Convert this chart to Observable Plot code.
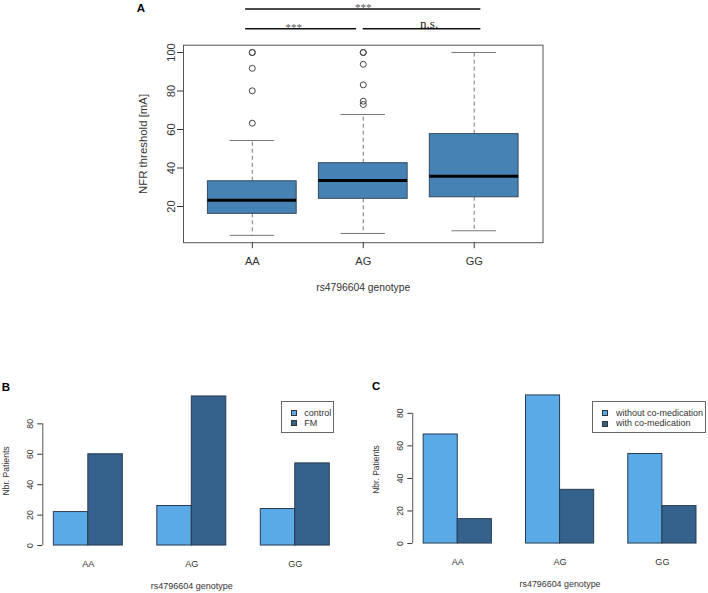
<!DOCTYPE html>
<html>
<head>
<meta charset="utf-8">
<script src="https://cdn.jsdelivr.net/npm/d3@7"></script>
<script src="https://cdn.jsdelivr.net/npm/@observablehq/plot@0.6"></script>
<style>
  html, body { margin: 0; padding: 0; background: #fff; overflow: hidden; }
  #wrap { position: relative; width: 708px; height: 593px; overflow: hidden; background: #fff;
          font-family: "Liberation Sans", Arial, Helvetica, sans-serif; color: #333; }
  .panel { position: absolute; }
  .legend { position: absolute; box-sizing: border-box; border: 1px solid #666; background: #fff; }
  .legend .sw { position: absolute; width: 6px; height: 6px; border: 1px solid #333; box-sizing: border-box; }
  .legend .lb { position: absolute; font-size: 9px; line-height: 10px; white-space: nowrap; color: #333; }
</style>
</head>
<body>
<div id="wrap">
  <div class="panel" id="pA" style="left:0;top:0"></div>
  <div class="panel" id="pB" style="left:0;top:370px"></div>
  <div class="panel" id="pC" style="left:354px;top:370px"></div>
</div>
<script>
// ---------------- data ----------------
const genotypes = ["AA", "AG", "GG"];

// Panel A: NFR threshold [mA] box-plot summaries per genotype
const whiskerLow  = [5, 6, 7.4];
const quartile1   = [16.2, 24.0, 24.8];
const medians     = [23.3, 33.5, 35.7];
const quartile3   = [33.1, 42.5, 57.6];
const whiskerHigh = [54.3, 67.8, 100];
const outliersAA  = [63.3, 80.1, 91.8, 100, 100];
const outliersAG  = [73, 74.7, 83.2, 93.9, 100, 100];
const outliersGG  = [];
const yTicksA = [20, 40, 60, 80, 100];
const comparisons = [
  {from: "AA", to: "AG", label: "***", tier: 0},
  {from: "AG", to: "GG", label: "n.s.", tier: 0},
  {from: "AA", to: "GG", label: "***", tier: 1}
];

// Panel B: number of patients, control vs FM
const seriesB = ["control", "FM"];
const controlCounts = [22, 26, 24];
const fmCounts = [60, 98, 54];

// Panel C: number of patients, with / without co-medication
const seriesC = ["without co-medication", "with co-medication"];
const withoutCoMed = [67, 91, 55];
const withCoMed = [15, 33, 23];

const yTicksBars = [0, 20, 40, 60, 80];
const seriesColors = ["#5aaae8", "#34628c"];
const xTitle = "rs4796604 genotype";

// ---------------- helpers ----------------
const FONT = '"Liberation Sans", Arial, Helvetica, sans-serif';
const SERIF = '"Liberation Serif", "Times New Roman", serif';
const rExtend = ([a, b]) => { const d = (b - a) * 0.04; return [a - d, b + d]; };
const baseStyle = {background: "transparent", fontFamily: FONT, color: "#333", overflow: "visible"};

// ---------------- Panel A ----------------
const idx = genotypes.map((g, i) => i);
const outlierRows = [
  ...outliersAA.map(v => ({g: 0, v})),
  ...outliersAG.map(v => ({g: 1, v})),
  ...outliersGG.map(v => ({g: 2, v}))
];
const xA = rExtend([0.5, genotypes.length + 0.5]);
const allA = [...whiskerLow, ...whiskerHigh, ...outlierRows.map(d => d.v)];
const yA = rExtend([d3.min(allA), d3.max(allA)]);

const sigRows = comparisons.map(c => {
  const a = genotypes.indexOf(c.from) + 1, b = genotypes.indexOf(c.to) + 1;
  const x1 = a - (a === 2 ? 0 : 0.06);
  const x2 = b + (b === 2 ? -0.06 : 0.06);
  const mid = (x1 + x2) / 2;
  return {x1, x2, y: 112.3 + c.tier * 10.3, tx: mid + (mid - 2) * 0.12, label: c.label};
});

const plotA = Plot.plot({
  width: 708, height: 300,
  marginLeft: 183, marginRight: 165.5, marginTop: 44.7, marginBottom: 57.8,
  x: {type: "linear", domain: xA},
  y: {domain: yA},
  style: baseStyle,
  marks: [
    Plot.ruleX(idx, {x: i => i + 1, y1: i => quartile3[i], y2: i => whiskerHigh[i], stroke: "#777", strokeDasharray: "4,3"}),
    Plot.ruleX(idx, {x: i => i + 1, y1: i => quartile1[i], y2: i => whiskerLow[i], stroke: "#777", strokeDasharray: "4,3"}),
    Plot.ruleY(idx, {y: i => whiskerHigh[i], x1: i => i + 0.8, x2: i => i + 1.2, stroke: "#777"}),
    Plot.ruleY(idx, {y: i => whiskerLow[i], x1: i => i + 0.8, x2: i => i + 1.2, stroke: "#777"}),
    Plot.rect(idx, {x1: i => i + 0.6, x2: i => i + 1.4, y1: i => quartile1[i], y2: i => quartile3[i], fill: "#4682b4", stroke: "#34495e"}),
    Plot.ruleY(idx, {y: i => medians[i], x1: i => i + 0.6, x2: i => i + 1.4, stroke: "#000", strokeWidth: 3}),
    Plot.dot(outlierRows, {x: d => d.g + 1, y: "v", r: 3, stroke: "#444", fill: "none", strokeWidth: 1}),
    Plot.frame({stroke: "#555"}),
    Plot.axisY({ticks: yTicksA, tickSize: 6, tickRotate: -90, tickPadding: 3, label: null, fontSize: 11}),
    Plot.axisX({ticks: genotypes.map((g, i) => i + 1), tickFormat: d => genotypes[d - 1], tickSize: 6, tickPadding: 8, label: null, fontSize: 11}),
    Plot.text([xTitle], {frameAnchor: "bottom", dy: 45, lineAnchor: "middle", textAnchor: "middle", fontSize: 10.3}),
    Plot.text(["NFR threshold [mA]"], {frameAnchor: "left", dx: -40, rotate: -90, textAnchor: "middle", lineAnchor: "middle", fontSize: 11.4}),
    Plot.text(["A"], {frameAnchor: "top-left", dx: -42.5, dy: -36.7, textAnchor: "middle", lineAnchor: "middle", fontWeight: "bold", fontSize: 11.5, fill: "#000"}),
    Plot.ruleY(sigRows, {y: "y", x1: "x1", x2: "x2", stroke: "#111", strokeWidth: 1.5}),
    Plot.text(sigRows.filter(d => d.label !== "n.s."), {x: "tx", y: "y", text: "label", lineAnchor: "middle", dy: -1.5,
      fontFamily: SERIF, fontSize: 11, fill: "#555"}),
    Plot.text(sigRows.filter(d => d.label === "n.s."), {x: "tx", y: "y", text: "label", lineAnchor: "bottom", dy: -1,
      fontFamily: SERIF, fontSize: 13, fill: "#222"})
  ]
});
document.getElementById("pA").append(plotA);

// ---------------- Bar panels ----------------
function barPanel({series, values, marginLeft, marginTop, width, label}) {
  const step = series.length + 1;           // bars per group + one gap
  const rows = [];
  genotypes.forEach((g, gi) => series.forEach((s, si) => {
    rows.push({g, s, left: 1 + gi * step + si, value: values[si][gi]});
  }));
  const xD = rExtend([1, genotypes.length * step]);
  const yD = rExtend([0, d3.max(rows, d => d.value)]);
  return Plot.plot({
    width, height: 223,
    marginLeft, marginRight: width - marginLeft - 298, marginTop, marginBottom: 42,
    x: {type: "linear", domain: xD, axis: null},
    y: {domain: yD},
    color: {domain: series, range: seriesColors},
    style: baseStyle,
    marks: [
      Plot.rect(rows, {x1: "left", x2: d => d.left + 1, y1: 0, y2: "value", fill: "s", stroke: "#2a3a4f", strokeWidth: 1}),
      Plot.ruleX([xD[0]], {x: d => d, y1: yTicksBars[0], y2: yTicksBars[yTicksBars.length - 1], stroke: "#555"}),
      Plot.axisY({ticks: yTicksBars, tickSize: 5, tickRotate: -90, tickPadding: 5, label: null, fontSize: 8.7}),
      Plot.text(idx, {x: i => 1 + i * step + series.length / 2, text: i => genotypes[i],
        frameAnchor: "bottom", dy: 12.3, lineAnchor: "middle", textAnchor: "middle", fontSize: 9.2}),
      Plot.text([xTitle], {frameAnchor: "bottom", dy: 35, lineAnchor: "middle", textAnchor: "middle", fontSize: 9}),
      Plot.text(["Nbr. Patients"], {frameAnchor: "left", dx: -37, rotate: -90, textAnchor: "middle", lineAnchor: "middle", fontSize: 8.6}),
      Plot.text([label], {frameAnchor: "top-left", dx: -37, dy: -3, textAnchor: "middle", lineAnchor: "middle", fontWeight: "bold", fontSize: 11.5, fill: "#000"})
    ]
  });
}

document.getElementById("pB").append(barPanel({
  series: seriesB, values: [controlCounts, fmCounts], marginLeft: 42.3, marginTop: 20, width: 354, label: "B"
}));
document.getElementById("pC").append(barPanel({
  series: seriesC, values: [withoutCoMed, withCoMed], marginLeft: 58.9, marginTop: 19.2, width: 358, label: "C"
}));

// ---------------- Legends ----------------
function addLegend({left, top, width, height, swX, txtX, rowsY, labels}) {
  const box = document.createElement("div");
  box.className = "legend";
  Object.assign(box.style, {left: left + "px", top: top + "px", width: width + "px", height: height + "px"});
  labels.forEach((lab, i) => {
    const sw = document.createElement("div");
    sw.className = "sw";
    Object.assign(sw.style, {left: (swX - left - 3) + "px", top: (rowsY[i] - top - 3) + "px", background: seriesColors[i]});
    const tx = document.createElement("div");
    tx.className = "lb";
    tx.textContent = lab;
    Object.assign(tx.style, {left: (txtX - left) + "px", top: (rowsY[i] - top - 5.5) + "px"});
    box.append(sw, tx);
  });
  document.getElementById("wrap").append(box);
}
addLegend({left: 281, top: 401, width: 53.3, height: 31.7, swX: 292.7, txtX: 303.3, rowsY: [412.3, 422.3], labels: seriesB});
addLegend({left: 592.3, top: 401, width: 113.4, height: 31.7, swX: 603.7, txtX: 615, rowsY: [412.3, 422.7], labels: seriesC});
</script>
</body>
</html>
